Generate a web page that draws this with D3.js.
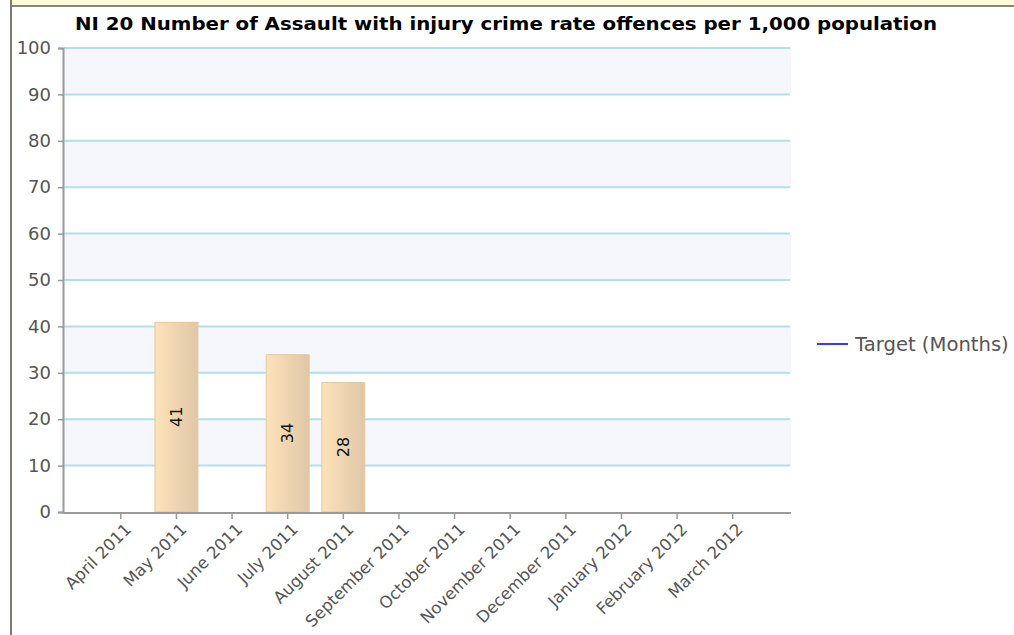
<!DOCTYPE html>
<html>
<head>
<meta charset="utf-8">
<script src="https://cdn.jsdelivr.net/npm/d3@7"></script>
<style>
  html, body { margin: 0; padding: 0; background: #fff; }
  svg { display: block; }
</style>
</head>
<body>
<svg id="chart" width="1014" height="635"></svg>
<script>
const title = "NI 20 Number of Assault with injury crime rate offences per 1,000 population";
const months = ["April 2011","May 2011","June 2011","July 2011","August 2011","September 2011",
                "October 2011","November 2011","December 2011","January 2012","February 2012","March 2012"];
const values = [null, 41, null, 34, 28, null, null, null, null, null, null, null];
const yTicks = [0,10,20,30,40,50,60,70,80,90,100];
const legendLabel = "Target (Months)";

const svg = d3.select("#chart");
const FONT = "'DejaVu Sans', sans-serif";
const FONT_C = "'DejaVu Sans Condensed', 'DejaVu Sans', sans-serif";

// frame decorations
svg.append("rect").attr("x", 12).attr("y", 0).attr("width", 1002).attr("height", 6).attr("fill", "#fffbd9");
svg.append("rect").attr("x", 12).attr("y", 5).attr("width", 1002).attr("height", 2).attr("fill", "#85857a");
svg.append("rect").attr("x", 10).attr("y", 0).attr("width", 2).attr("height", 635).attr("fill", "#7d7d70");

const plot = {left: 63, right: 790, top: 48, bottom: 512};
const y = d3.scaleLinear().domain([0, 100]).range([plot.bottom, plot.top]);
const x = d3.scaleBand().domain(months).range([93, 760.5]).padding(0);

const defs = svg.append("defs");
const grad = defs.append("linearGradient").attr("id", "barGrad").attr("x1", "0").attr("x2", "1").attr("y1", "0").attr("y2", "0");
grad.append("stop").attr("offset", "0%").attr("stop-color", "#fde2ba");
grad.append("stop").attr("offset", "100%").attr("stop-color", "#dfc7a7");

// shaded bands
const bands = [10, 30, 50, 70, 90];
svg.append("g").selectAll("rect").data(bands).join("rect")
  .attr("x", plot.left + 1).attr("width", plot.right - plot.left)
  .attr("y", d => y(d + 10)).attr("height", d => y(d) - y(d + 10))
  .attr("fill", "#f5f7fd");

// gridlines
svg.append("g").selectAll("line").data(yTicks.filter(d => d > 0)).join("line")
  .attr("x1", plot.left + 1).attr("x2", plot.right)
  .attr("y1", d => y(d)).attr("y2", d => y(d))
  .attr("stroke", "#b2e0ea").attr("stroke-width", 2);

// bars
const barW = x.bandwidth() * 0.79;
const barData = months.map((m, i) => ({m, v: values[i]})).filter(d => d.v != null);
svg.append("g").selectAll("rect").data(barData).join("rect")
  .attr("x", d => x(d.m) + x.bandwidth() / 2 - barW / 2 + 0.5)
  .attr("width", barW - 1)
  .attr("y", d => y(d.v) + 0.5)
  .attr("height", d => y(0) - y(d.v) - 0.5)
  .attr("fill", "url(#barGrad)")
  .attr("stroke", "#e3c79c").attr("stroke-width", 1);

svg.append("g").selectAll("text").data(barData).join("text")
  .attr("transform", d => `translate(${x(d.m) + x.bandwidth() / 2},${(y(d.v) + y(0)) / 2}) rotate(-90)`)
  .attr("text-anchor", "middle").attr("dy", "0.35em")
  .attr("font-family", FONT).attr("font-size", 16).attr("fill", "#111")
  .text(d => d.v);

// y axis
const yAxis = d3.axisLeft(y).tickValues(yTicks).tickSize(5).tickPadding(7);
const gy = svg.append("g").attr("transform", `translate(${plot.left},0)`).call(yAxis);
gy.select(".domain").attr("stroke", "#999").attr("stroke-width", 2);
gy.selectAll(".tick line").attr("stroke", "#999").attr("stroke-width", 1.5);
gy.selectAll(".tick text").attr("font-family", FONT).attr("font-size", 18).attr("fill", "#555");

// x axis
const xAxis = d3.axisBottom(x).tickSize(6).tickSizeOuter(0);
const gx = svg.append("g").attr("transform", `translate(0,${plot.bottom + 1})`).call(xAxis);
gx.select(".domain").attr("d", `M${plot.left},0H${plot.right + 1}`).attr("stroke", "#999").attr("stroke-width", 2);
gx.selectAll(".tick line").attr("stroke", "#999").attr("stroke-width", 1.5);
gx.selectAll(".tick text")
  .attr("font-family", FONT).attr("font-size", 16.5).attr("fill", "#555")
  .attr("text-anchor", "end")
  .attr("transform", "translate(3,9) rotate(-45)")
  .attr("x", 0).attr("y", 0).attr("dy", "0.71em");

// title
svg.append("text").attr("x", 506).attr("y", 30).attr("text-anchor", "middle")
  .attr("font-family", FONT_C).attr("font-weight", "bold").attr("font-size", 18).attr("fill", "#000")
  .attr("textLength", 862).attr("lengthAdjust", "spacingAndGlyphs")
  .text(title);

// legend
const lg = svg.append("g").attr("transform", "translate(817,344)");
lg.append("line").attr("x1", 0).attr("x2", 31).attr("y1", 0).attr("y2", 0).attr("stroke", "#3a3af0").attr("stroke-width", 2);
lg.append("text").attr("x", 38).attr("y", 0).attr("dy", "0.36em")
  .attr("font-family", FONT).attr("font-size", 19.6).attr("fill", "#555").text(legendLabel);
</script>
</body>
</html>
